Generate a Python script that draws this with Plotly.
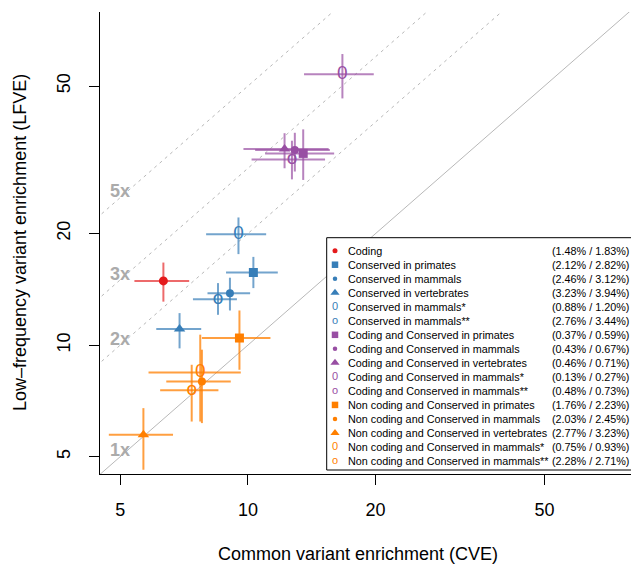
import numpy as np
import plotly.graph_objects as go

# ---------------- data ----------------
labels = ["Coding", "Conserved in primates", "Conserved in mammals", "Conserved in vertebrates",
          "Conserved in mammals*", "Conserved in mammals**",
          "Coding and Conserved in primates", "Coding and Conserved in mammals",
          "Coding and Conserved in vertebrates", "Coding and Conserved in mammals*",
          "Coding and Conserved in mammals**",
          "Non coding and Conserved in primates", "Non coding and Conserved in mammals",
          "Non coding and Conserved in vertebrates", "Non coding and Conserved in mammals*",
          "Non coding and Conserved in mammals**"]
pcts = ["(1.48% / 1.83%)", "(2.12% / 2.82%)", "(2.46% / 3.12%)", "(3.23% / 3.94%)",
        "(0.88% / 1.20%)", "(2.76% / 3.44%)", "(0.37% / 0.59%)", "(0.43% / 0.67%)",
        "(0.46% / 0.71%)", "(0.13% / 0.27%)", "(0.48% / 0.73%)", "(1.76% / 2.23%)",
        "(2.03% / 2.45%)", "(2.77% / 3.23%)", "(0.75% / 0.93%)", "(2.28% / 2.71%)"]
groups = ["coding"] + ["cons"] * 5 + ["codcons"] * 5 + ["noncod"] * 5
kinds = ["circle", "square", "dot", "triangle", "zero", "o",
         "square", "dot", "triangle", "zero", "o",
         "square", "dot", "triangle", "zero", "o"]

cve    = [6.32, 10.3, 9.07, 6.90, 9.50, 8.50, 13.5, 12.9, 12.2, 16.7, 12.7, 9.55, 7.79, 5.67, 7.72, 7.37]
cve_lo = [5.40, 8.88, 8.03, 6.08, 7.97, 7.42, 10.98, 10.4, 9.76, 13.56, 10.2, 7.79, 6.42, 4.70, 5.83, 6.21]
cve_hi = [7.27, 11.76, 10.12, 7.76, 11.04, 9.42, 15.97, 15.6, 15.5, 19.8, 15.2, 11.3, 9.11, 6.66, 9.62, 8.52]
lfve    = [14.9, 15.7, 13.8, 11.05, 19.9, 13.3, 32.9, 33.6, 33.8, 53.8, 31.7, 10.45, 7.98, 5.73, 8.44, 7.55]
lfve_lo = [13.1, 14.25, 12.4, 9.8, 17.6, 12.07, 27.9, 29.4, 30.0, 46.3, 28.0, 8.58, 6.16, 4.61, 6.22, 6.22]
lfve_hi = [16.7, 17.3, 15.2, 12.2, 22.1, 14.7, 38.2, 37.4, 37.3, 61.0, 35.6, 12.4, 9.72, 6.76, 10.67, 8.85]

multipliers = [1, 2, 3, 5]
mult_labels = ["1x", "2x", "3x", "5x"]
tick_vals = [5, 10, 20, 50]
tick_text = ["5", "10", "20", "50"]

# ---------------- styles ----------------
FONT = "Liberation Sans, Arial, Helvetica, sans-serif"
col = {"coding": "#E41A1C", "cons": "#377EB8", "codcons": "#984EA3", "noncod": "#FF7F00"}
bar = {"coding": "rgba(228,26,28,0.65)", "cons": "rgba(55,126,184,0.7)",
       "codcons": "rgba(152,78,163,0.7)", "noncod": "rgba(255,127,0,0.75)"}

XR = [np.log10(4.48), np.log10(80.0)]
YR = [np.log10(4.49), np.log10(79.2)]

fig = go.Figure()

# reference diagonals y = k x
xl = [10 ** XR[0] * 0.9, 10 ** XR[1] * 1.1]
for k in multipliers:
    fig.add_trace(go.Scatter(
        x=xl, y=[k * v for v in xl], mode="lines", hoverinfo="skip", showlegend=False,
        line=dict(color="#B8B8B8", width=1, dash="solid" if k == 1 else "3px,4px")))

# error bars
for i in range(len(labels)):
    g = groups[i]
    fig.add_trace(go.Scatter(
        x=[cve[i]], y=[lfve[i]], mode="markers", showlegend=False, hoverinfo="skip",
        marker=dict(size=1, opacity=0),
        error_x=dict(type="data", symmetric=False, array=[cve_hi[i] - cve[i]],
                     arrayminus=[cve[i] - cve_lo[i]], color=bar[g], thickness=2, width=0),
        error_y=dict(type="data", symmetric=False, array=[lfve_hi[i] - lfve[i]],
                     arrayminus=[lfve[i] - lfve_lo[i]], color=bar[g], thickness=2, width=0)))

# markers
sym = {"circle": ("circle", 9), "dot": ("circle", 8), "square": ("square", 9), "triangle": ("triangle-up", 10)}
for i in range(len(labels)):
    g, kd = groups[i], kinds[i]
    if kd in sym:
        fig.add_trace(go.Scatter(x=[cve[i]], y=[lfve[i]], mode="markers", name=labels[i],
                                 showlegend=False,
                                 marker=dict(symbol=sym[kd][0], size=sym[kd][1], color=col[g],
                                             line=dict(width=0))))
    else:
        fig.add_trace(go.Scatter(x=[cve[i]], y=[lfve[i]], mode="text", name=labels[i],
                                 showlegend=False, text=["0" if kd == "zero" else "o"],
                                 textposition="middle center",
                                 textfont=dict(family=FONT, size=19, color=col[g])))

# ---------------- legend (manual, in pixel overlay axes) ----------------
LX0, LY0, LY1 = 326.7, 237.7, 470.0
fig.add_trace(go.Scatter(x=[LX0, LX0, 650, 650, LX0], y=[LY0, LY1, LY1, LY0, LY0],
                         xaxis="x2", yaxis="y2", mode="lines", fill="toself",
                         fillcolor="white", line=dict(color="black", width=1),
                         hoverinfo="skip", showlegend=False))
row_y = [250.7 + i * 14.02 for i in range(len(labels))]
lsym = {"circle": ("circle", 5), "dot": ("circle", 4.5), "square": ("square", 6.5),
        "triangle": ("triangle-up", 8)}
LFS = 10.8
annotations = []
for i in range(len(labels)):
    g, kd = groups[i], kinds[i]
    if kd in lsym:
        fig.add_trace(go.Scatter(x=[335], y=[row_y[i]], xaxis="x2", yaxis="y2", mode="markers",
                                 showlegend=False, hoverinfo="skip",
                                 marker=dict(symbol=lsym[kd][0], size=lsym[kd][1], color=col[g])))
    else:
        fig.add_trace(go.Scatter(x=[335], y=[row_y[i]], xaxis="x2", yaxis="y2", mode="text",
                                 showlegend=False, hoverinfo="skip",
                                 text=["0" if kd == "zero" else "o"], textposition="middle center",
                                 textfont=dict(family=FONT, size=11, color=col[g])))
    annotations.append(dict(x=345.5, y=row_y[i], xref="x2", yref="y2", text=labels[i],
                            showarrow=False, xanchor="left", yanchor="middle",
                            font=dict(family=FONT, size=LFS, color="black")))
    annotations.append(dict(x=631, y=row_y[i], xref="x2", yref="y2", text=pcts[i],
                            showarrow=False, xanchor="right", yanchor="middle",
                            font=dict(family=FONT, size=LFS, color="black")))

# multiplier labels
for k, t in zip(multipliers, mult_labels):
    annotations.append(dict(x=np.log10(5), y=np.log10(5.2 * k), xref="x", yref="y", text="<b>%s</b>" % t,
                            showarrow=False, xanchor="center", yanchor="middle",
                            font=dict(family=FONT, size=18, color="#ABABAB")))

# axis titles
annotations.append(dict(x=(358 - 100) / 531, y=0, xref="paper", yref="paper", yshift=-80,
                        text="Common variant enrichment (CVE)", showarrow=False,
                        xanchor="center", yanchor="middle", font=dict(family=FONT, size=18, color="black")))
annotations.append(dict(x=0, y=(474 - 243) / 462, xref="paper", yref="paper", xshift=-80,
                        text="Low\u2013frequency variant enrichment (LFVE)", showarrow=False, textangle=-90,
                        xanchor="center", yanchor="middle", font=dict(family=FONT, size=18, color="black")))

axis_common = dict(type="log", showgrid=False, zeroline=False, showline=True, linecolor="black",
                   linewidth=1, ticks="outside", ticklen=10, tickwidth=1, tickcolor="black",
                   tickvals=tick_vals, ticktext=tick_text,
                   tickfont=dict(family=FONT, size=18, color="black"))

fig.update_layout(
    width=631, height=564, autosize=False,
    margin=dict(l=100, r=0, t=12, b=90, pad=0),
    paper_bgcolor="white", plot_bgcolor="white",
    showlegend=False,
    xaxis=dict(range=XR, ticklabelstandoff=9, **axis_common),
    yaxis=dict(range=YR, tickangle=-90, ticklabelstandoff=12, **axis_common),
    xaxis2=dict(overlaying="x", range=[100, 631], visible=False, anchor="y2"),
    yaxis2=dict(overlaying="y", range=[474, 12], visible=False, anchor="x2"),
    annotations=annotations,
)

fig.write_html("out.html")
